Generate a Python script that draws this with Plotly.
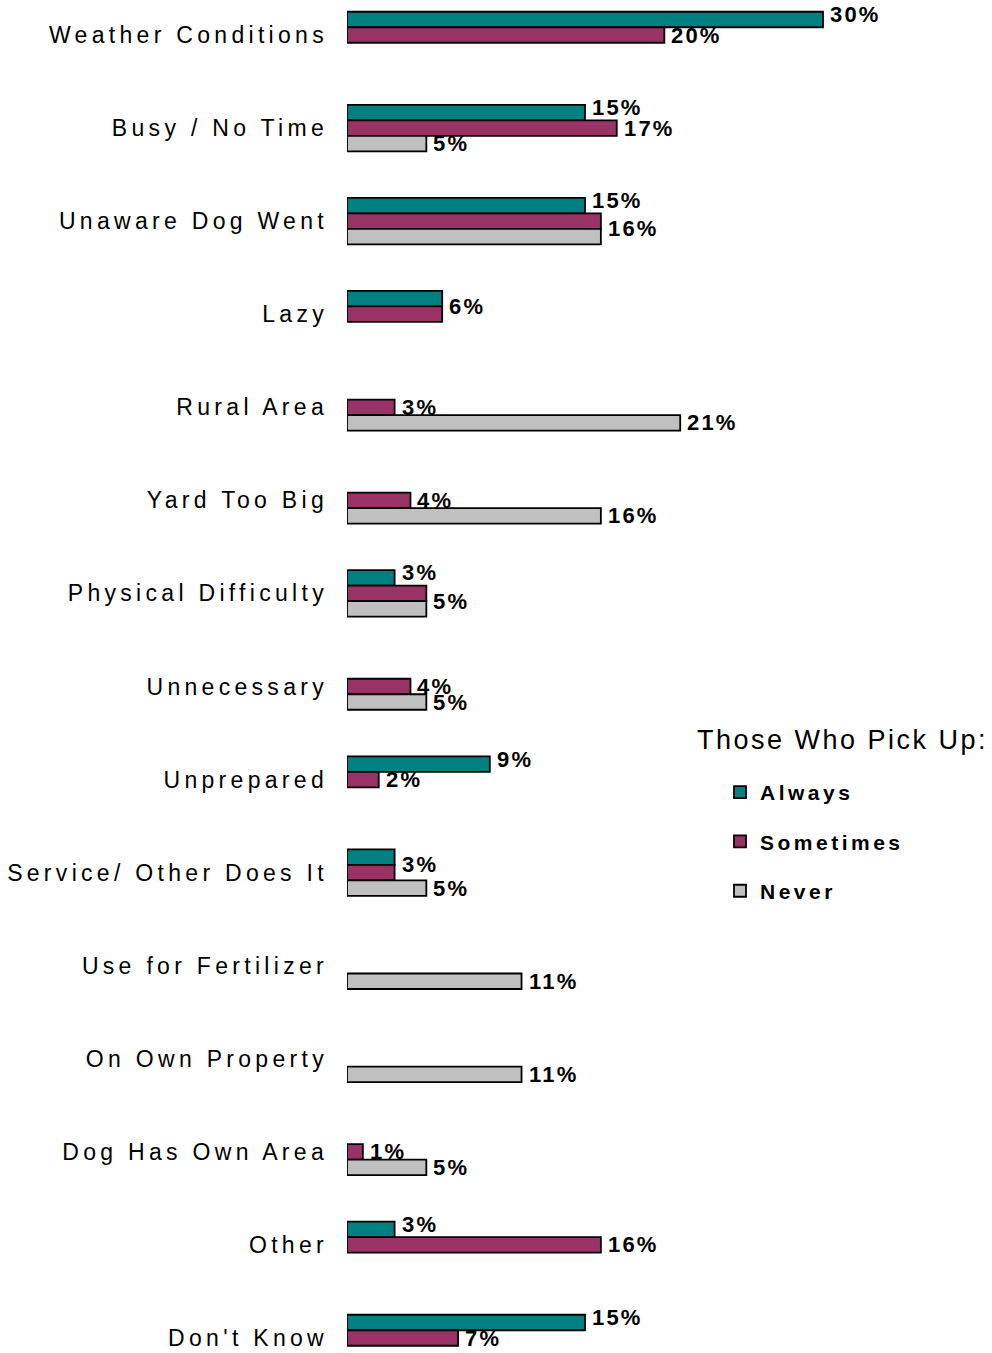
import plotly.graph_objects as go

# Reasons given for not picking up after the dog, by pick-up habit (percent of respondents)
categories = [
    "Weather Conditions", "Busy / No Time", "Unaware Dog Went", "Lazy", "Rural Area",
    "Yard Too Big", "Physical Difficulty", "Unnecessary", "Unprepared",
    "Service/ Other Does It", "Use for Fertilizer", "On Own Property",
    "Dog Has Own Area", "Other", "Don't Know",
]
always = [30, 15, 15, 6, None, None, 3, None, 9, 3, None, None, None, 3, 15]
sometimes = [20, 17, 16, 6, 3, 4, 5, 4, 2, 3, None, None, 1, 16, 7]
never = [None, 5, 16, None, 21, 16, 5, 5, None, 5, 11, 11, 5, None, None]

series_names = ["Always", "Sometimes", "Never"]
series_values = [always, sometimes, never]
series_colors = ["#008080", "#993366", "#C0C0C0"]

legend_title = "Those Who Pick Up:"

# Neighbouring bars with the same value share one label: (category, labelled series) -> partner series
shared_labels = {
    ("Unaware Dog Went", "Sometimes"): "Never",
    ("Lazy", "Sometimes"): "Always",
    ("Physical Difficulty", "Sometimes"): "Never",
    ("Service/ Other Does It", "Always"): "Sometimes",
}

FONT = "Liberation Sans, Arial, sans-serif"
FIG_W, FIG_H = 992, 1353
MARGIN_L = 347
X_RANGE = [0, 40.65]
Y_RANGE = [14.161, -0.376]
BARGAP = 0.5
# small upward lift (px) of the top-bar labels so they clear the label beneath
LABEL_LIFT = {"Always": 5, "Sometimes": 0, "Never": 0}

fig = go.Figure()
for name, values, color in zip(series_names, series_values, series_colors):
    fig.add_trace(go.Bar(
        name=name,
        y=categories,
        x=values,
        orientation="h",
        marker=dict(color=color, line=dict(color="#000000", width=1.8)),
        legendgroup=name,
        hoverinfo="x+y+name",
    ))

# Value labels, placed beside each bar's slot within its category group
slot_px = FIG_H / (Y_RANGE[0] - Y_RANGE[1]) * (1 - BARGAP) / len(series_names)
slot_index = {name: (len(series_names) - 1) / 2 - i for i, name in enumerate(series_names)}
merged_away = {(cat, partner) for (cat, _), partner in shared_labels.items()}

for ci, cat in enumerate(categories):
    for name, values in zip(series_names, series_values):
        v = values[ci]
        if v is None or (cat, name) in merged_away:
            continue
        pos = slot_index[name]
        lift = LABEL_LIFT[name]
        partner = shared_labels.get((cat, name))
        if partner is not None:
            pos = (pos + slot_index[partner]) / 2
            lift = 0
        fig.add_annotation(
            x=v, y=cat, xref="x", yref="y",
            text=f"{v}%",
            showarrow=False,
            xanchor="left", yanchor="middle",
            xshift=5, yshift=pos * slot_px + lift,
            font=dict(family=FONT, size=22, color="#000000", weight=700),
        )

fig.add_annotation(
    text=legend_title,
    xref="paper", yref="paper",
    x=(695 - MARGIN_L) / (FIG_W - MARGIN_L), y=1 - 740 / FIG_H,
    xanchor="left", yanchor="middle",
    showarrow=False,
    font=dict(family=FONT, size=27, color="#000000"),
)

fig.update_layout(
    width=FIG_W,
    height=FIG_H,
    margin=dict(l=MARGIN_L, r=0, t=0, b=0, pad=0),
    paper_bgcolor="#FFFFFF",
    plot_bgcolor="#FFFFFF",
    barmode="group",
    bargap=BARGAP,
    bargroupgap=0,
    showlegend=True,
    legend=dict(
        x=(720 - MARGIN_L) / (FIG_W - MARGIN_L), y=1 - 772 / FIG_H,
        xanchor="left", yanchor="top",
        traceorder="grouped",
        tracegroupgap=19,
        font=dict(family=FONT, size=21, color="#000000", weight=700),
        bgcolor="rgba(0,0,0,0)",
    ),
    xaxis=dict(
        range=X_RANGE,
        showgrid=False, zeroline=False, showline=False,
        showticklabels=False, ticks="",
        fixedrange=True,
    ),
    yaxis=dict(
        type="category",
        categoryorder="array",
        categoryarray=categories,
        range=Y_RANGE,
        showgrid=False, zeroline=False, showline=False,
        ticks="",
        ticklabelstandoff=18,
        tickfont=dict(family=FONT, size=23, color="#000000"),
        fixedrange=True,
    ),
)

# Wide letter tracking; centred annotation texts are shifted so their left edge stays put
POST_JS = """
var gd = document.getElementById('{plot_id}');
function spread(sel, px, keepStart) {
  gd.querySelectorAll(sel).forEach(function (t) {
    if (t.getAttribute('data-spread')) return;
    var w0 = t.getComputedTextLength();
    t.style.letterSpacing = px + 'px';
    if (keepStart) {
      var w1 = t.getComputedTextLength();
      t.setAttribute('dx', ((w1 - w0) / 2).toFixed(2));
    }
    t.setAttribute('data-spread', '1');
  });
}
gd.querySelectorAll('.legend .scrollbox').forEach(function (g) { g.removeAttribute('clip-path'); });
spread('.ytick text', 4.3, false);
spread('.legendtext', 3.5, false);
gd.querySelectorAll('.annotation').forEach(function (a) {
  var t = a.querySelector('.annotation-text');
  if (!t) return;
  var big = parseFloat(t.style.fontSize || '0') > 24;
  spread('.annotation[data-index="' + a.getAttribute('data-index') + '"] .annotation-text', big ? 2.5 : 2.2, true);
});
"""

fig.write_html("out.html", post_script=POST_JS)
